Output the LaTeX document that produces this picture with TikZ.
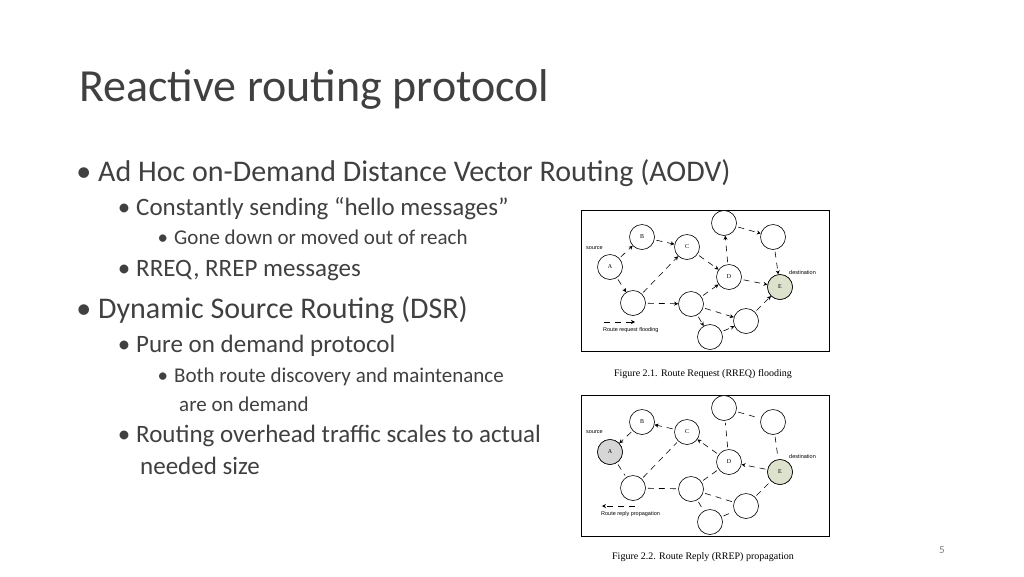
\documentclass[tikz,border=0pt]{standalone}
\usepackage{fontspec}
\setmainfont{Carlito}
\setsansfont{Liberation Sans}
\newfontfamily\figserif{Liberation Serif}
\usetikzlibrary{arrows.meta,positioning}
\definecolor{destfill}{HTML}{DDE2CC}
\definecolor{srcfill}{HTML}{D6D6D6}
\definecolor{txt}{HTML}{404040}
\newcommand{\bul}[1]{\llap{\textbullet\hspace{#1}}}

\begin{document}
\begin{tikzpicture}[x=1pt,y=-1pt,
        every node/.style={inner sep=0pt},
        rnode/.style={draw, circle, minimum size=25pt, fill=white, font=\figserif\fontsize{6}{7}\selectfont, line width=.6pt},
        link/.style={dash pattern=on 6pt off 5pt, line width=.6pt},
        req/.style={link, -{Stealth[length=4pt,width=4pt]}},
        lvlone/.style={anchor=base west, font=\fontsize{30}{34}\selectfont, text=txt},
        lvltwo/.style={anchor=base west, font=\fontsize{25}{28}\selectfont, text=txt},
        lvlthree/.style={anchor=base west, font=\fontsize{21}{24}\selectfont, text=txt},
        tiny/.style={font=\sffamily\fontsize{5.5}{6}\selectfont, anchor=west},
        caption/.style={font=\figserif\fontsize{10}{11}\selectfont}
    ]
    \useasboundingbox (0,0) rectangle (1024,576);

    % Text
    \node[anchor=base west, font=\fontsize{46}{50}\selectfont, text=txt] (title) at (79,101) {Reactive routing protocol};
    \node[lvlone] (b1) at (98,181) {\bul{7pt}Ad Hoc on-Demand Distance Vector Routing (AODV)};
    \node[lvltwo] (b2) at (136,215) {\bul{6pt}Constantly sending “hello messages”};
    \node[lvlthree] (b3) at (174,244) {\bul{6pt}Gone down or moved out of reach};
    \node[lvltwo] (b4) at (136,276) {\bul{6pt}RREQ, RREP messages};
    \node[lvlone] (b5) at (98,318) {\bul{7pt}Dynamic Source Routing (DSR)};
    \node[lvltwo] (b6) at (136,352) {\bul{6pt}Pure on demand protocol};
    \node[lvlthree] (b7) at (174,382) {\bul{6pt}Both route discovery and maintenance};
    \node[lvlthree] (b8) at (179,411) {are on demand};
    \node[lvltwo] (b9) at (136,442) {\bul{6pt}Routing overhead traffic scales to actual};
    \node[lvltwo] (b10) at (140,474) {needed size};
    \node[font=\fontsize{11}{12}\selectfont, text=gray] (pg) at (942,550) {5};

    % Figure 2.1
    \node[draw, line width=.8pt, minimum width=248pt, minimum height=141pt] (box1) at (705,280.5) {};
    \foreach \n/\x/\y/\t in {a/610/267/A, b/642/237/B, c/687/247/C, d/729/277/D, u/724/223/, v/773/237/, e/780/287/E, f/633/303/, g/691/304/, h/746/321/, k/710/337/}
        \node[rnode] (p\n) at (\x,\y) {\t};
    \node[rnode, fill=destfill] at (pe) {E};
    \foreach \s/\t in {a/b, a/f, b/c, f/c, c/d, f/g, g/d, g/h, g/k, k/h, d/u, u/v, v/e, d/e, h/e}
        \draw[req, shorten <=2pt] (p\s) -- (p\t);
    \node[tiny] (src1) at (586,248) {source};
    \node[tiny] (dst1) at (789,273) {destination};
    \coordinate (l1a) at (604,322);
    \coordinate (l1b) at (635,322);
    \draw[req] (l1a) -- (l1b);
    \node[tiny] (leg1) at (603,330) {Route request flooding};
    \node[caption] (cap1) at (703,374) {Figure 2.1. Route Request (RREQ) flooding};

    % Figure 2.2
    \node[draw, line width=.8pt, minimum width=248pt, minimum height=141pt] (box2) at (705,465.5) {};
    \foreach \n/\x/\y/\t in {a/610/452/A, b/642/422/B, c/687/432/C, d/729/462/D, u/724/408/, v/773/422/, e/780/472/E, f/633/488/, g/691/489/, h/746/506/, k/710/522/}
        \node[rnode] (q\n) at (\x,\y) {\t};
    \node[rnode, fill=srcfill] at (qa) {A};
    \node[rnode, fill=destfill] at (qe) {E};
    \foreach \s/\t in {b/a, c/b, d/c, e/d}
        \draw[req, shorten <=2pt] (q\s) -- (q\t);
    \foreach \s/\t in {a/f, f/c, f/g, g/d, g/h, g/k, k/h, d/u, u/v, v/e, h/e}
        \draw[link, shorten <=2pt, shorten >=2pt] (q\s) -- (q\t);
    \node[tiny] (src2) at (586,432) {source};
    \node[tiny] (dst2) at (789,457) {destination};
    \coordinate (l2a) at (635,506);
    \coordinate (l2b) at (602,506);
    \draw[req] (l2a) -- (l2b);
    \node[tiny] (leg2) at (601,514) {Route reply propagation};
    \node[caption] (cap2) at (703,557) {Figure 2.2. Route Reply (RREP) propagation};
\end{tikzpicture}
\end{document}
